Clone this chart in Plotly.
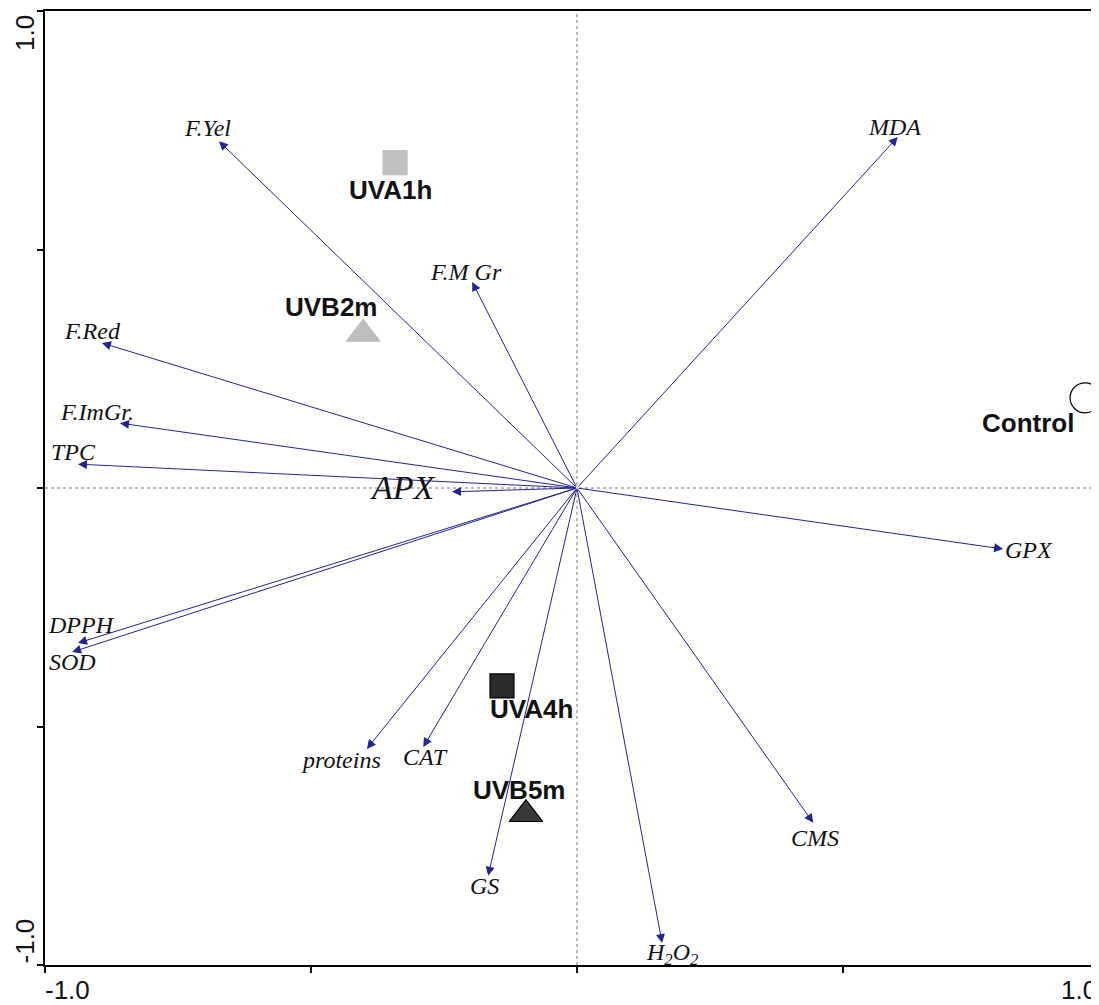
import plotly.graph_objects as go

# Variable loadings (arrows)
var_names = ["F.Yel", "MDA", "F.M Gr", "F.Red", "F.ImGr.", "TPC", "APX", "DPPH",
             "SOD", "proteins", "CAT", "GS", "H<sub>2</sub>O<sub>2</sub>", "CMS", "GPX"]
var_x = [-0.673, 0.603, -0.197, -0.893, -0.859, -0.938, -0.235, -0.938,
         -0.949, -0.395, -0.289, -0.167, 0.160, 0.444, 0.801]
var_y = [0.727, 0.736, 0.432, 0.304, 0.136, 0.050, -0.008, -0.325,
         -0.344, -0.547, -0.543, -0.813, -0.954, -0.702, -0.128]

# Samples (scores)
sample_names = ["UVA1h", "UVB2m", "UVA4h", "UVB5m", "Control"]
sample_x = [-0.342, -0.402, -0.141, -0.096, 0.955]
sample_y = [0.682, 0.323, -0.415, -0.684, 0.189]

# styling (not data)
var_label_shift = [(-11, 13), (-3, 10), (-6, 10), (-9, 12), (-23, 11), (-4, 12), (-49, 4),
                   (4, 18), (0, -10), (-26, -11), (2, -10), (-4, -10), (10, -11), (2, -15), (26, -1)]
var_font_size = [24] * 15
var_font_size[6] = 34
sample_symbols = ["square", "triangle-up", "square", "triangle-up", "circle-open"]
sample_sizes = [24, 29, 24, 29, 30]
sample_colors = ["#c0c0c0", "#bdbdbd", "#2a2a2a", "#3a3a3a", "#000000"]
sample_line = ["#c0c0c0", "#bdbdbd", "#000000", "#000000", "#000000"]
sample_label_shift = [(-5, -27), (-32, 27), (30, -23), (-7, 24), (-57, -25)]

ARROW = "#22229a"

fig = go.Figure()

# zero reference lines (dotted)
fig.add_shape(type="line", x0=0, x1=0, y0=-1, y1=1, xref="x", yref="y",
              line=dict(color="#777777", width=1, dash="dot"), layer="below")
fig.add_shape(type="line", x0=-1, x1=1, y0=0, y1=0, xref="x", yref="y",
              line=dict(color="#777777", width=1, dash="dot"), layer="below")

annotations = []
for name, x, y, (dx, dy), fs in zip(var_names, var_x, var_y, var_label_shift, var_font_size):
    annotations.append(dict(x=x, y=y, ax=0, ay=0, xref="x", yref="y", axref="x", ayref="y",
                            text="", showarrow=True, arrowhead=2, arrowsize=1.8,
                            arrowwidth=1, arrowcolor=ARROW, standoff=0))
    annotations.append(dict(x=x, y=y, xref="x", yref="y", text="<i>" + name + "</i>",
                            showarrow=False, xshift=dx, yshift=dy,
                            font=dict(family="Liberation Serif, Times New Roman, serif",
                                      size=fs, color="#111111")))

fig.add_trace(go.Scatter(
    x=sample_x, y=sample_y, mode="markers",
    marker=dict(symbol=sample_symbols, size=sample_sizes, color=sample_colors, opacity=1,
                line=dict(color=sample_line, width=1.2)),
    hoverinfo="text", text=sample_names, showlegend=False, cliponaxis=True))

for name, x, y, (dx, dy) in zip(sample_names, sample_x, sample_y, sample_label_shift):
    annotations.append(dict(x=x, y=y, xref="x", yref="y", text="<b>" + name + "</b>",
                            showarrow=False, xshift=dx, yshift=dy,
                            font=dict(family="Liberation Sans, Arial, sans-serif",
                                      size=26, color="#111111")))

# axis end labels
tick_font = dict(family="Liberation Sans, Arial, sans-serif", size=26, color="#111111")
annotations += [
    dict(x=-0.019, y=1, xref="paper", yref="y", text="1.0", textangle=-90, showarrow=False,
         font=tick_font, xanchor="center", yanchor="top", yshift=-2),
    dict(x=-0.019, y=-1, xref="paper", yref="y", text="-1.0", textangle=-90, showarrow=False,
         font=tick_font, xanchor="center", yanchor="bottom"),
    dict(x=-1, y=0, xref="x", yref="paper", text="-1.0", showarrow=False,
         font=tick_font, xanchor="left", yanchor="top", yshift=-8, xshift=-2),
    dict(x=1, y=0, xref="paper", yref="paper", text="1.0", showarrow=False,
         font=tick_font, xanchor="right", yanchor="top", yshift=-8),
]

fig.update_layout(
    width=1091, height=997,
    margin=dict(l=37, r=0, t=3, b=40),
    paper_bgcolor="white", plot_bgcolor="white",
    annotations=annotations,
    showlegend=False,
    xaxis=dict(range=[-1, 0.9812], showgrid=False, zeroline=False,
               showline=True, linecolor="black", linewidth=2, mirror=True,
               ticks="outside", ticklen=6, tickwidth=1.5, tickcolor="black",
               tickvals=[-1, -0.5, 0, 0.5], showticklabels=False, fixedrange=True),
    yaxis=dict(range=[-1, 1], showgrid=False, zeroline=False,
               showline=True, linecolor="black", linewidth=2,
               ticks="outside", ticklen=6, tickwidth=1.5, tickcolor="black",
               tickvals=[-1, -0.5, 0, 0.5, 1], showticklabels=False, fixedrange=True),
)

fig.write_html("out.html")
